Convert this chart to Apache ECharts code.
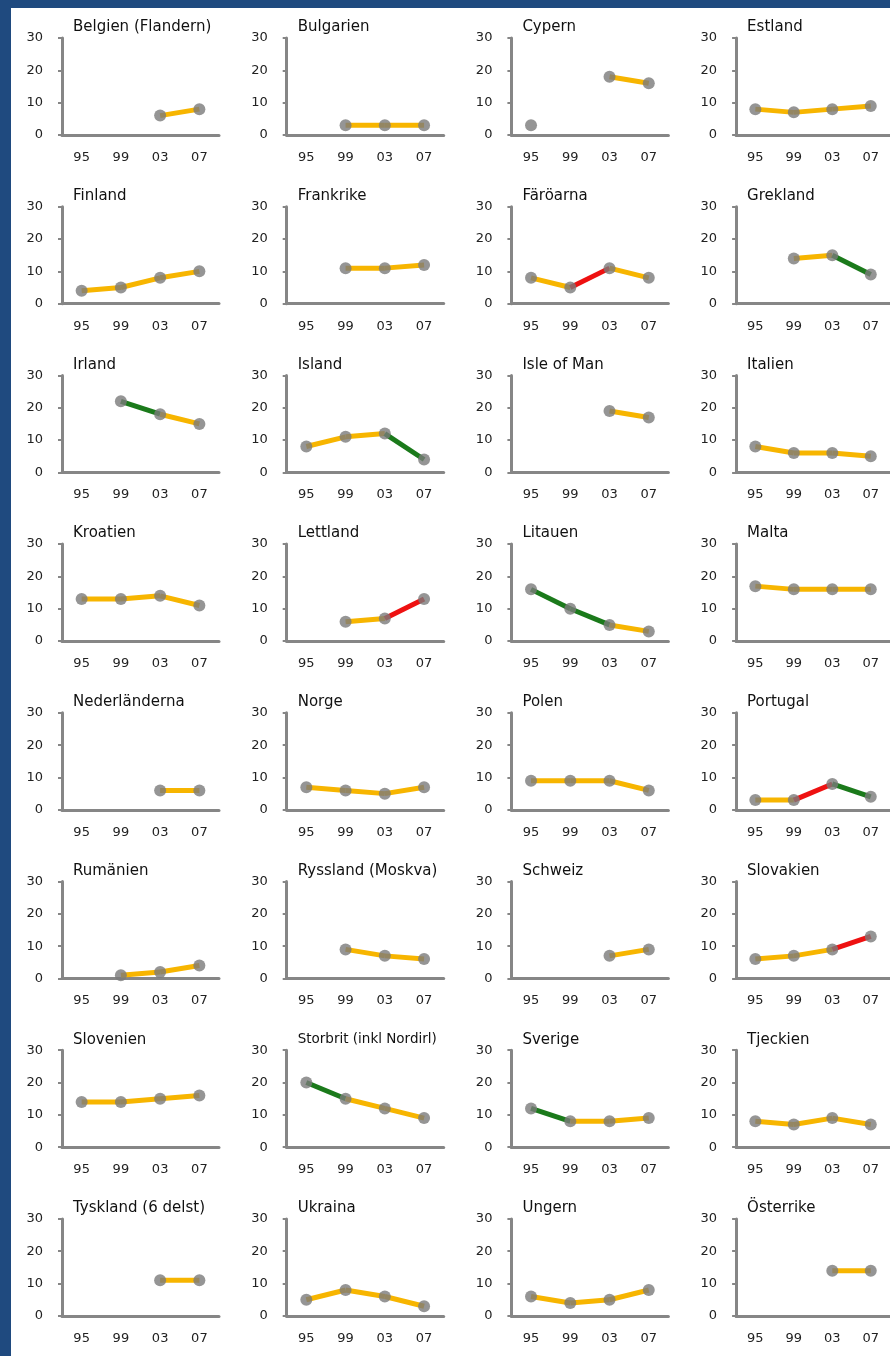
<!DOCTYPE html>
<html>
<head>
<meta charset="utf-8">
<script src="https://cdn.jsdelivr.net/npm/echarts@6/dist/echarts.min.js"></script>
<style>
  html, body { margin: 0; padding: 0; background: #1f4a7f; }
  #frame { position: absolute; left: 11px; top: 8px; width: 879px; height: 1348px; background: #fff; }
  #chart { position: absolute; left: 0; top: 0; width: 890px; height: 1356px; }
</style>
</head>
<body>
<div id="frame"></div>
<div id="chart"></div>
<script>
// survey years on the x axis
const years = ['95', '99', '03', '07']
const yTicks = [0, 10, 20, 30]

const countries = [
  'Belgien (Flandern)', 'Bulgarien', 'Cypern', 'Estland',
  'Finland', 'Frankrike', 'Färöarna', 'Grekland',
  'Irland', 'Island', 'Isle of Man', 'Italien',
  'Kroatien', 'Lettland', 'Litauen', 'Malta',
  'Nederländerna', 'Norge', 'Polen', 'Portugal',
  'Rumänien', 'Ryssland (Moskva)', 'Schweiz', 'Slovakien',
  'Slovenien', 'Storbrit (inkl Nordirl)', 'Sverige', 'Tjeckien',
  'Tyskland (6 delst)', 'Ukraina', 'Ungern', 'Österrike'
]

// one value per year, null = not in that survey
const rates = [
  [null, null, 6, 8], [null, 3, 3, 3], [3, null, 18, 16], [8, 7, 8, 9],
  [4, 5, 8, 10], [null, 11, 11, 12], [8, 5, 11, 8], [null, 14, 15, 9],
  [null, 22, 18, 15], [8, 11, 12, 4], [null, null, 19, 17], [8, 6, 6, 5],
  [13, 13, 14, 11], [null, 6, 7, 13], [16, 10, 5, 3], [17, 16, 16, 16],
  [null, null, 6, 6], [7, 6, 5, 7], [9, 9, 9, 6], [3, 3, 8, 4],
  [null, 1, 2, 4], [null, 9, 7, 6], [null, null, 7, 9], [6, 7, 9, 13],
  [14, 14, 15, 16], [20, 15, 12, 9], [12, 8, 8, 9], [8, 7, 9, 7],
  [null, null, 11, 11], [5, 8, 6, 3], [6, 4, 5, 8], [null, null, 14, 14]
]

// trend of each segment: y = no change, r = up, g = down
const trends = [
  'yyy', 'yyy', 'yyy', 'yyy',
  'yyy', 'yyy', 'yry', 'yyg',
  'ggy', 'yyg', 'yyy', 'yyy',
  'yyy', 'yyr', 'ggy', 'yyy',
  'yyy', 'yyy', 'yyy', 'yrg',
  'yyy', 'yyy', 'yyy', 'yyr',
  'yyy', 'gyy', 'gyy', 'yyy',
  'yyy', 'yyy', 'yyy', 'yyy'
]

const trendColors = { y: '#f7b500', r: '#ee1111', g: '#1b7a1b' }
const axisGray = '#868686'
const font = 'DejaVu Sans'

const chart = echarts.init(document.getElementById('chart'))

const grids = []
const xAxes = []
const yAxes = []
const titles = []
const series = []

countries.forEach((name, i) => {
  const col = i % 4
  const row = Math.floor(i / 4)
  const left = 62 + col * 224.7
  const top = 38 + row * 168.7

  grids.push({ left: left, top: top, width: 157, height: 97 })

  titles.push({
    text: name,
    left: left + 11,
    top: top - 18,
    padding: 0,
    textStyle: {
      fontFamily: font,
      fontWeight: 'normal',
      fontSize: name.length > 20 ? 13.5 : 15,
      color: '#111'
    }
  })

  xAxes.push({
    type: 'category',
    gridIndex: i,
    data: years,
    boundaryGap: true,
    axisLine: { lineStyle: { color: axisGray, width: 3 } },
    axisTick: { show: false },
    axisLabel: { color: '#222', fontFamily: font, fontSize: 13, margin: 16 },
    splitLine: { show: false }
  })

  yAxes.push({
    type: 'value',
    gridIndex: i,
    min: yTicks[0],
    max: yTicks[yTicks.length - 1],
    interval: 10,
    axisLine: { show: true, lineStyle: { color: axisGray, width: 3 } },
    axisTick: { show: true, length: 4, lineStyle: { color: axisGray, width: 2 } },
    axisLabel: { color: '#222', fontFamily: font, fontSize: 13, margin: 19 },
    splitLine: { show: false }
  })

  const vals = rates[i]
  for (let k = 0; k < vals.length - 1; k++) {
    if (vals[k] == null || vals[k + 1] == null) continue
    series.push({
      type: 'line',
      xAxisIndex: i,
      yAxisIndex: i,
      data: [[k, vals[k]], [k + 1, vals[k + 1]]],
      showSymbol: false,
      lineStyle: { color: trendColors[trends[i][k]], width: 5 },
      z: 2,
      silent: true
    })
  }

  series.push({
    type: 'scatter',
    xAxisIndex: i,
    yAxisIndex: i,
    data: vals.map((v, k) => [k, v]).filter(d => d[1] != null),
    symbol: 'circle',
    symbolSize: 12,
    itemStyle: { color: '#7b7b7b' },
    z: 3,
    silent: true
  })
})

chart.setOption({
  animation: false,
  title: titles,
  grid: grids,
  xAxis: xAxes,
  yAxis: yAxes,
  series: series
})
</script>
</body>
</html>
